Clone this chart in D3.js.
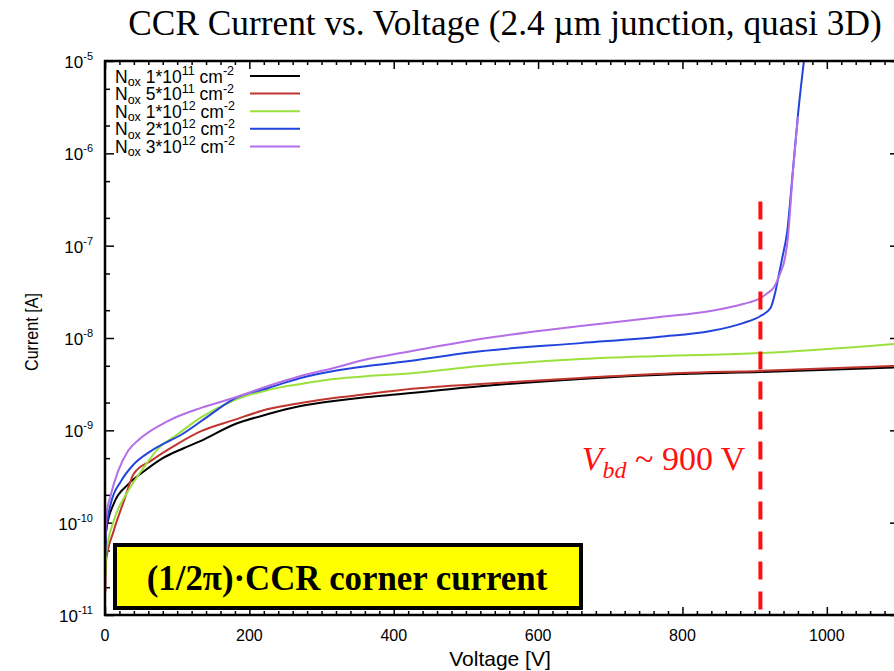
<!DOCTYPE html>
<html><head><meta charset="utf-8">
<script src="https://cdn.jsdelivr.net/npm/d3@7"></script>
<style>body{margin:0;background:#fff} svg{display:block}</style>
</head><body>
<svg id="c" width="894" height="671"></svg>
<script>
// ---- data ----
const xTicks = [0, 200, 400, 600, 800, 1000];
const yTickExp = [-11, -10, -9, -8, -7, -6, -5];

const vBlack = [0.5, 1.5, 12, 32, 54, 80, 109, 133, 178, 226, 271, 317, 364, 410, 520, 659, 797, 908, 1100];
const iBlack = [3.0e-11, 8.1e-11, 1.6e-10, 2.6e-10, 3.6e-10, 5.0e-10, 6.4e-10, 7.7e-10, 1.15e-9, 1.5e-9, 1.83e-9, 2.08e-9, 2.3e-9, 2.47e-9, 3.0e-9, 3.6e-9, 4.07e-9, 4.29e-9, 4.8e-9];

const vRed = [0.5, 1.5, 12, 26, 40, 64, 100, 133, 178, 226, 271, 317, 364, 410, 520, 659, 797, 908, 1100];
const iRed = [1.8e-11, 3.9e-11, 8.1e-11, 1.7e-10, 3.4e-10, 4.7e-10, 7.1e-10, 9.8e-10, 1.29e-9, 1.7e-9, 1.98e-9, 2.24e-9, 2.47e-9, 2.74e-9, 3.18e-9, 3.69e-9, 4.18e-9, 4.4e-9, 5.0e-9];

const vGreen = [0.5, 1.5, 12, 32, 50, 75, 100, 133, 178, 226, 271, 317, 364, 410, 520, 659, 769, 908, 1100];
const iGreen = [2.6e-11, 4.6e-11, 1.04e-10, 2.2e-10, 3.6e-10, 6.5e-10, 9.0e-10, 1.38e-9, 2.1e-9, 2.74e-9, 3.18e-9, 3.6e-9, 3.87e-9, 4.07e-9, 4.98e-9, 5.92e-9, 6.38e-9, 6.87e-9, 8.7e-9];

const vBlue = [0.5, 1.5, 8, 22, 40, 64, 109, 147, 178, 226, 271, 317, 364, 410, 520, 659, 769, 839, 884, 908, 922, 928, 933, 938, 945, 953, 960, 970];
const iBlue = [4.4e-11, 8.0e-11, 1.6e-10, 2.8e-10, 4.3e-10, 6.0e-10, 9.3e-10, 1.5e-9, 2.18e-9, 2.87e-9, 3.69e-9, 4.4e-9, 4.98e-9, 5.5e-9, 7.2e-9, 8.8e-9, 1.03e-8, 1.19e-8, 1.45e-8, 1.73e-8, 2.11e-8, 2.99e-8, 4.6e-8, 7.2e-8, 1.4e-7, 6.5e-7, 2.6e-6, 1.3e-5];

const vPurple = [0.5, 2, 8, 18, 32, 50, 87, 133, 178, 226, 271, 317, 364, 410, 520, 659, 769, 839, 884, 908, 918, 926, 935, 942, 946, 953, 960];
const iPurple = [6.3e-11, 1.2e-10, 2.0e-10, 3.6e-10, 6.0e-10, 8.3e-10, 1.26e-9, 1.75e-9, 2.24e-9, 3.02e-9, 3.87e-9, 4.73e-9, 5.92e-9, 6.87e-9, 9.75e-9, 1.35e-8, 1.69e-8, 1.96e-8, 2.33e-8, 2.71e-8, 3.07e-8, 3.48e-8, 4.93e-8, 7.3e-8, 1.2e-7, 6.3e-7, 2.5e-6];

const legendMant = ["1", "5", "1", "2", "3"];
const legendExp = ["11", "11", "12", "12", "12"];
const seriesColors = ["#000000", "#c0352d", "#9be03c", "#2244dd", "#b46ee8"];

const vbdVoltage = 908;
const vbdTopCurrent = 3.0e-7;

// ---- drawing ----
const svg = d3.select("#c");
const L = 105, T = 61, B = 615;
const x = d3.scaleLinear().domain([0, 1100]).range([L, 899]);
const y = d3.scaleLog().domain([1e-11, 1e-5]).range([B, T]);
const R = x.range()[1];

svg.append("defs").append("clipPath").attr("id", "plotclip")
  .append("rect").attr("x", L).attr("y", T).attr("width", R - L).attr("height", B - T);

// title
svg.append("text").attr("x", 505).attr("y", 35).attr("text-anchor", "middle")
  .attr("font-family", "Liberation Serif, Times New Roman, serif").attr("font-size", 35.3)
  .text("CCR Current vs. Voltage (2.4 µm junction, quasi 3D)");

// axes ticks
const tickStyle = g => { g.select(".domain").remove(); g.selectAll("line").attr("stroke", "#000").attr("stroke-width", 1.5); };
const xMinor = d3.range(0, 1101, 20).filter(v => v % 200 !== 0);
const yMajor = yTickExp.map(e => Math.pow(10, e));
const yMinor = [];
for (let e = -11; e < -5; e++) { yMinor.push(2 * Math.pow(10, e)); yMinor.push(5 * Math.pow(10, e)); }

svg.append("g").attr("transform", `translate(0,${B})`).call(d3.axisBottom(x).tickValues(xTicks).tickSize(-8).tickFormat("")).call(tickStyle);
svg.append("g").attr("transform", `translate(0,${B})`).call(d3.axisBottom(x).tickValues(xMinor).tickSize(-4).tickFormat("")).call(tickStyle);
svg.append("g").attr("transform", `translate(0,${T})`).call(d3.axisTop(x).tickValues(xTicks).tickSize(-8).tickFormat("")).call(tickStyle);
svg.append("g").attr("transform", `translate(0,${T})`).call(d3.axisTop(x).tickValues(xMinor).tickSize(-4).tickFormat("")).call(tickStyle);
svg.append("g").attr("transform", `translate(${L},0)`).call(d3.axisLeft(y).tickValues(yMajor).tickSize(-9).tickFormat("")).call(tickStyle);
svg.append("g").attr("transform", `translate(${L},0)`).call(d3.axisLeft(y).tickValues(yMinor).tickSize(-5).tickFormat("")).call(tickStyle);
svg.append("g").attr("transform", `translate(${R},0)`).call(d3.axisRight(y).tickValues(yMajor).tickSize(-9).tickFormat("")).call(tickStyle);
svg.append("g").attr("transform", `translate(${R},0)`).call(d3.axisRight(y).tickValues(yMinor).tickSize(-5).tickFormat("")).call(tickStyle);

// tick labels
svg.append("g").selectAll("text").data(xTicks).join("text")
  .attr("x", d => x(d)).attr("y", B + 26).attr("text-anchor", "middle")
  .attr("font-family", "Liberation Sans, Arial, sans-serif").attr("font-size", 16)
  .text(d => d);
const yl = svg.append("g").selectAll("text").data(yTickExp).join("text")
  .attr("x", 93).attr("y", d => y(Math.pow(10, d)) + 7).attr("text-anchor", "end")
  .attr("font-family", "Liberation Sans, Arial, sans-serif").attr("font-size", 17);
yl.append("tspan").text("10");
yl.append("tspan").attr("dy", -8).attr("font-size", 11).text(d => "-" + Math.abs(d));

// axis titles
svg.append("text").attr("x", 500).attr("y", 666).attr("text-anchor", "middle")
  .attr("font-family", "Liberation Sans, Arial, sans-serif").attr("font-size", 21).text("Voltage [V]");
svg.append("text").attr("transform", "translate(38,332) rotate(-90) scale(0.85,1)").attr("text-anchor", "middle")
  .attr("font-family", "Liberation Sans, Arial, sans-serif").attr("font-size", 19).text("Current [A]");

// curves
const series = [
  { v: vBlack, i: iBlack }, { v: vRed, i: iRed }, { v: vGreen, i: iGreen },
  { v: vBlue, i: iBlue }, { v: vPurple, i: iPurple }
];
const line = d3.line().x(d => x(d[0])).y(d => y(d[1])).curve(d3.curveMonotoneX);
const cg = svg.append("g").attr("clip-path", "url(#plotclip)");
series.forEach((s, k) => {
  cg.append("path").attr("d", line(d3.zip(s.v, s.i)))
    .attr("fill", "none").attr("stroke", seriesColors[k]).attr("stroke-width", 2)
    .attr("stroke-linejoin", "round");
});

// frame
svg.append("rect").attr("x", L).attr("y", T).attr("width", R - L).attr("height", B - T)
  .attr("fill", "none").attr("stroke", "#000").attr("stroke-width", 2.5);

// legend
const lg = svg.append("g");
legendMant.forEach((m, k) => {
  const ly = 76 + k * 17.6;
  const t = lg.append("text").attr("x", 115).attr("y", ly + 6.5)
    .attr("font-family", "Liberation Sans, Arial, sans-serif").attr("font-size", 17.5);
  t.append("tspan").text("N");
  t.append("tspan").attr("dy", 3.5).attr("font-size", 12.5).text("ox");
  t.append("tspan").attr("dy", -3.5).text(" " + m + "*10");
  t.append("tspan").attr("dy", -7.5).attr("font-size", 12.5).text(legendExp[k]);
  t.append("tspan").attr("dy", 7.5).text(" cm");
  t.append("tspan").attr("dy", -7.5).attr("font-size", 12.5).text("-2");
  lg.append("line").attr("x1", 250).attr("x2", 300).attr("y1", ly).attr("y2", ly)
    .attr("stroke", seriesColors[k]).attr("stroke-width", 2);
});

// breakdown line
svg.append("line").attr("x1", x(vbdVoltage)).attr("x2", x(vbdVoltage))
  .attr("y1", y(vbdTopCurrent)).attr("y2", B)
  .attr("stroke", "#ff1010").attr("stroke-width", 4).attr("stroke-dasharray", "18,12");
const vt = svg.append("text").attr("x", x(vbdVoltage) - 15).attr("y", 470).attr("text-anchor", "end")
  .attr("font-family", "Liberation Serif, Times New Roman, serif").attr("font-size", 34).attr("fill", "#ff1010");
vt.append("tspan").attr("font-style", "italic").text("V");
vt.append("tspan").attr("font-style", "italic").attr("font-size", 24).attr("dy", 8).text("bd");
vt.append("tspan").attr("dy", -8).text(" ~ 900 V");

// yellow box
svg.append("rect").attr("x", 115).attr("y", 545).attr("width", 466).attr("height", 63)
  .attr("fill", "#ffff00").attr("stroke", "#000").attr("stroke-width", 4);
svg.append("text").attr("x", 347).attr("y", 590).attr("text-anchor", "middle")
  .attr("font-family", "Liberation Serif, Times New Roman, serif").attr("font-size", 34.8).attr("font-weight", "bold")
  .text("(1/2π)·CCR corner current");
</script>
</body></html>
